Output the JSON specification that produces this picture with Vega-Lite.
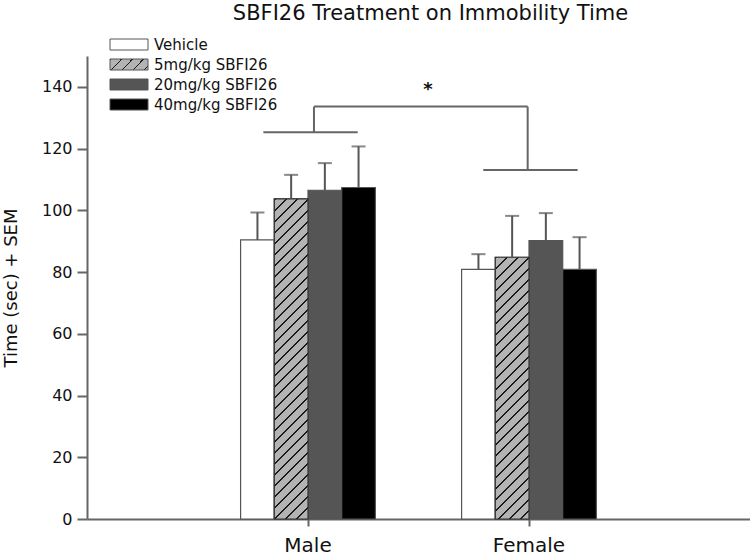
{
  "$schema": "https://vega.github.io/schema/vega-lite/v6.json",
  "width": 663,
  "height": 463,
  "autosize": {"type": "none"},
  "padding": {"left": 87, "top": 56, "right": 0, "bottom": 37},
  "background": "white",
  "params": [
    {"name": "hatchLegend", "value": {"gradient": "linear", "x1": 0, "y1": 0, "x2": 8.547, "y2": 2.474, "stops": [
{"offset":0,"color":"#1a1a1a"},{"offset":0.005625,"color":"#1a1a1a"},{"offset":0.005625,"color":"#b3b3b3"},{"offset":0.03125,"color":"#b3b3b3"},
{"offset":0.03125,"color":"#1a1a1a"},{"offset":0.036875,"color":"#1a1a1a"},{"offset":0.036875,"color":"#b3b3b3"},{"offset":0.0625,"color":"#b3b3b3"},
{"offset":0.0625,"color":"#1a1a1a"},{"offset":0.068125,"color":"#1a1a1a"},{"offset":0.068125,"color":"#b3b3b3"},{"offset":0.09375,"color":"#b3b3b3"},
{"offset":0.09375,"color":"#1a1a1a"},{"offset":0.099375,"color":"#1a1a1a"},{"offset":0.099375,"color":"#b3b3b3"},{"offset":0.125,"color":"#b3b3b3"},
{"offset":0.125,"color":"#1a1a1a"},{"offset":0.130625,"color":"#1a1a1a"},{"offset":0.130625,"color":"#b3b3b3"},{"offset":0.15625,"color":"#b3b3b3"},
{"offset":0.15625,"color":"#1a1a1a"},{"offset":0.161875,"color":"#1a1a1a"},{"offset":0.161875,"color":"#b3b3b3"},{"offset":1,"color":"#b3b3b3"}
    ]}}
  ],
  "title": {
    "text": "SBFI26 Treatment on Immobility Time",
    "font": "DejaVu Sans",
    "fontSize": 21,
    "fontWeight": "normal",
    "color": "#111",
    "frame": "group",
    "anchor": "middle",
    "baseline": "alphabetic",
    "dx": 12,
    "offset": -4
  },
  "datasets": {
    "bars": [
      {"sex": "Male", "treatment": "Vehicle", "mean": 90.4, "upper": 99.3},
      {"sex": "Male", "treatment": "5mg/kg SBFI26", "mean": 103.7, "upper": 111.5},
      {"sex": "Male", "treatment": "20mg/kg SBFI26", "mean": 106.5, "upper": 115.3},
      {"sex": "Male", "treatment": "40mg/kg SBFI26", "mean": 107.4, "upper": 120.7},
      {"sex": "Female", "treatment": "Vehicle", "mean": 80.9, "upper": 85.8},
      {"sex": "Female", "treatment": "5mg/kg SBFI26", "mean": 84.8, "upper": 98.2},
      {"sex": "Female", "treatment": "20mg/kg SBFI26", "mean": 90.2, "upper": 99.1},
      {"sex": "Female", "treatment": "40mg/kg SBFI26", "mean": 80.9, "upper": 91.3}
    ],
    "bracket": [
      {"x1": 0.798, "x2": 1.225, "y1": 125.3, "y2": 125.3},
      {"x1": 1.027, "x2": 1.027, "y1": 125.3, "y2": 133.6},
      {"x1": 1.027, "x2": 1.994, "y1": 133.6, "y2": 133.6},
      {"x1": 1.994, "x2": 1.994, "y1": 133.6, "y2": 113.1},
      {"x1": 1.793, "x2": 2.22, "y1": 113.1, "y2": 113.1}
    ],
    "stars": [
      {"x": 1.543, "y": 139.0, "label": "*"}
    ]
  },
  "layer": [
    {
      "data": {"name": "bars"},
      "layer": [
        {
          "mark": {"type": "bar", "stroke": "#555", "strokeWidth": 1.2},
          "encoding": {
            "x": {"field": "sex", "type": "nominal", "title": null,
              "scale": {"domain": ["Male", "Female"], "paddingInner": 0.39, "paddingOuter": 0.695},
              "axis": {"labelAngle": 0, "labelFont": "DejaVu Sans", "labelFontSize": 20, "labelColor": "#111", "tickSize": 7, "labelPadding": 9}},
            "xOffset": {"field": "treatment", "type": "nominal",
              "scale": {"domain": ["Vehicle", "5mg/kg SBFI26", "20mg/kg SBFI26", "40mg/kg SBFI26"], "paddingInner": 0, "paddingOuter": 0}},
            "y": {"field": "mean", "type": "quantitative", "title": "Time (sec) + SEM",
              "scale": {"domain": [0, 150], "nice": false},
              "axis": {"values": [0, 20, 40, 60, 80, 100, 120, 140], "labelFont": "DejaVu Sans", "labelFontSize": 16, "labelColor": "#111", "tickSize": 10, "labelPadding": 5, "titleFont": "DejaVu Sans", "titleFontSize": 18, "titleFontWeight": "normal", "titleColor": "#111", "titlePadding": 21}},
            "color": {"field": "treatment", "type": "nominal",
              "scale": {"domain": ["Vehicle", "5mg/kg SBFI26", "20mg/kg SBFI26", "40mg/kg SBFI26"], "range": ["#ffffff", {"expr": "hatchLegend"}, "#555555", "#000000"]},
              "legend": {
                "orient": "none", "legendX": 34.5, "legendY": -19, "title": null,
                "symbolType": "M-3.4545,-1H3.4545V1H-3.4545Z", "symbolSize": 121,
                "symbolStrokeColor": "#555", "symbolStrokeWidth": 1,
                "labelFont": "DejaVu Sans", "labelFontSize": 15, "labelColor": "#111",
                "labelOffset": 17.5, "rowPadding": 4
              }}
          }
        },
        {
          "transform": [{"filter": "datum.sex === 'Male' && datum.treatment === '5mg/kg SBFI26'"}],
          "mark": {"type": "bar", "stroke": "#333", "strokeWidth": 1.2,
            "fill": {"gradient": "linear", "x1": 0, "y1": 0, "x2": 0.1145, "y2": 1.0876, "stops": [
{"offset":0,"color":"#1a1a1a"},{"offset":0.005625,"color":"#1a1a1a"},{"offset":0.005625,"color":"#b3b3b3"},{"offset":0.03125,"color":"#b3b3b3"},
{"offset":0.03125,"color":"#1a1a1a"},{"offset":0.036875,"color":"#1a1a1a"},{"offset":0.036875,"color":"#b3b3b3"},{"offset":0.0625,"color":"#b3b3b3"},
{"offset":0.0625,"color":"#1a1a1a"},{"offset":0.068125,"color":"#1a1a1a"},{"offset":0.068125,"color":"#b3b3b3"},{"offset":0.09375,"color":"#b3b3b3"},
{"offset":0.09375,"color":"#1a1a1a"},{"offset":0.099375,"color":"#1a1a1a"},{"offset":0.099375,"color":"#b3b3b3"},{"offset":0.125,"color":"#b3b3b3"},
{"offset":0.125,"color":"#1a1a1a"},{"offset":0.130625,"color":"#1a1a1a"},{"offset":0.130625,"color":"#b3b3b3"},{"offset":0.15625,"color":"#b3b3b3"},
{"offset":0.15625,"color":"#1a1a1a"},{"offset":0.161875,"color":"#1a1a1a"},{"offset":0.161875,"color":"#b3b3b3"},{"offset":0.1875,"color":"#b3b3b3"},
{"offset":0.1875,"color":"#1a1a1a"},{"offset":0.193125,"color":"#1a1a1a"},{"offset":0.193125,"color":"#b3b3b3"},{"offset":0.21875,"color":"#b3b3b3"},
{"offset":0.21875,"color":"#1a1a1a"},{"offset":0.224375,"color":"#1a1a1a"},{"offset":0.224375,"color":"#b3b3b3"},{"offset":0.25,"color":"#b3b3b3"},
{"offset":0.25,"color":"#1a1a1a"},{"offset":0.255625,"color":"#1a1a1a"},{"offset":0.255625,"color":"#b3b3b3"},{"offset":0.28125,"color":"#b3b3b3"},
{"offset":0.28125,"color":"#1a1a1a"},{"offset":0.286875,"color":"#1a1a1a"},{"offset":0.286875,"color":"#b3b3b3"},{"offset":0.3125,"color":"#b3b3b3"},
{"offset":0.3125,"color":"#1a1a1a"},{"offset":0.318125,"color":"#1a1a1a"},{"offset":0.318125,"color":"#b3b3b3"},{"offset":0.34375,"color":"#b3b3b3"},
{"offset":0.34375,"color":"#1a1a1a"},{"offset":0.349375,"color":"#1a1a1a"},{"offset":0.349375,"color":"#b3b3b3"},{"offset":0.375,"color":"#b3b3b3"},
{"offset":0.375,"color":"#1a1a1a"},{"offset":0.380625,"color":"#1a1a1a"},{"offset":0.380625,"color":"#b3b3b3"},{"offset":0.40625,"color":"#b3b3b3"},
{"offset":0.40625,"color":"#1a1a1a"},{"offset":0.411875,"color":"#1a1a1a"},{"offset":0.411875,"color":"#b3b3b3"},{"offset":0.4375,"color":"#b3b3b3"},
{"offset":0.4375,"color":"#1a1a1a"},{"offset":0.443125,"color":"#1a1a1a"},{"offset":0.443125,"color":"#b3b3b3"},{"offset":0.46875,"color":"#b3b3b3"},
{"offset":0.46875,"color":"#1a1a1a"},{"offset":0.474375,"color":"#1a1a1a"},{"offset":0.474375,"color":"#b3b3b3"},{"offset":0.5,"color":"#b3b3b3"},
{"offset":0.5,"color":"#1a1a1a"},{"offset":0.505625,"color":"#1a1a1a"},{"offset":0.505625,"color":"#b3b3b3"},{"offset":0.53125,"color":"#b3b3b3"},
{"offset":0.53125,"color":"#1a1a1a"},{"offset":0.536875,"color":"#1a1a1a"},{"offset":0.536875,"color":"#b3b3b3"},{"offset":0.5625,"color":"#b3b3b3"},
{"offset":0.5625,"color":"#1a1a1a"},{"offset":0.568125,"color":"#1a1a1a"},{"offset":0.568125,"color":"#b3b3b3"},{"offset":0.59375,"color":"#b3b3b3"},
{"offset":0.59375,"color":"#1a1a1a"},{"offset":0.599375,"color":"#1a1a1a"},{"offset":0.599375,"color":"#b3b3b3"},{"offset":0.625,"color":"#b3b3b3"},
{"offset":0.625,"color":"#1a1a1a"},{"offset":0.630625,"color":"#1a1a1a"},{"offset":0.630625,"color":"#b3b3b3"},{"offset":0.65625,"color":"#b3b3b3"},
{"offset":0.65625,"color":"#1a1a1a"},{"offset":0.661875,"color":"#1a1a1a"},{"offset":0.661875,"color":"#b3b3b3"},{"offset":0.6875,"color":"#b3b3b3"},
{"offset":0.6875,"color":"#1a1a1a"},{"offset":0.693125,"color":"#1a1a1a"},{"offset":0.693125,"color":"#b3b3b3"},{"offset":0.71875,"color":"#b3b3b3"},
{"offset":0.71875,"color":"#1a1a1a"},{"offset":0.724375,"color":"#1a1a1a"},{"offset":0.724375,"color":"#b3b3b3"},{"offset":0.75,"color":"#b3b3b3"},
{"offset":0.75,"color":"#1a1a1a"},{"offset":0.755625,"color":"#1a1a1a"},{"offset":0.755625,"color":"#b3b3b3"},{"offset":0.78125,"color":"#b3b3b3"},
{"offset":0.78125,"color":"#1a1a1a"},{"offset":0.786875,"color":"#1a1a1a"},{"offset":0.786875,"color":"#b3b3b3"},{"offset":0.8125,"color":"#b3b3b3"},
{"offset":0.8125,"color":"#1a1a1a"},{"offset":0.818125,"color":"#1a1a1a"},{"offset":0.818125,"color":"#b3b3b3"},{"offset":0.84375,"color":"#b3b3b3"},
{"offset":0.84375,"color":"#1a1a1a"},{"offset":0.849375,"color":"#1a1a1a"},{"offset":0.849375,"color":"#b3b3b3"},{"offset":0.875,"color":"#b3b3b3"},
{"offset":0.875,"color":"#1a1a1a"},{"offset":0.880625,"color":"#1a1a1a"},{"offset":0.880625,"color":"#b3b3b3"},{"offset":0.90625,"color":"#b3b3b3"},
{"offset":0.90625,"color":"#1a1a1a"},{"offset":0.911875,"color":"#1a1a1a"},{"offset":0.911875,"color":"#b3b3b3"},{"offset":0.9375,"color":"#b3b3b3"},
{"offset":0.9375,"color":"#1a1a1a"},{"offset":0.943125,"color":"#1a1a1a"},{"offset":0.943125,"color":"#b3b3b3"},{"offset":0.96875,"color":"#b3b3b3"},
{"offset":0.96875,"color":"#1a1a1a"},{"offset":0.974375,"color":"#1a1a1a"},{"offset":0.974375,"color":"#b3b3b3"},{"offset":1,"color":"#b3b3b3"}
            ]}},
          "encoding": {
            "x": {"field": "sex", "type": "nominal", "title": null},
            "xOffset": {"field": "treatment", "type": "nominal"},
            "y": {"field": "mean", "type": "quantitative", "title": "Time (sec) + SEM"}
          }
        },
        {
          "transform": [{"filter": "datum.sex === 'Female' && datum.treatment === '5mg/kg SBFI26'"}],
          "mark": {"type": "bar", "stroke": "#333", "strokeWidth": 1.2,
            "fill": {"gradient": "linear", "x1": 0, "y1": 0, "x2": 0.1703, "y2": 1.3229, "stops": [
{"offset":0,"color":"#1a1a1a"},{"offset":0.005625,"color":"#1a1a1a"},{"offset":0.005625,"color":"#b3b3b3"},{"offset":0.03125,"color":"#b3b3b3"},
{"offset":0.03125,"color":"#1a1a1a"},{"offset":0.036875,"color":"#1a1a1a"},{"offset":0.036875,"color":"#b3b3b3"},{"offset":0.0625,"color":"#b3b3b3"},
{"offset":0.0625,"color":"#1a1a1a"},{"offset":0.068125,"color":"#1a1a1a"},{"offset":0.068125,"color":"#b3b3b3"},{"offset":0.09375,"color":"#b3b3b3"},
{"offset":0.09375,"color":"#1a1a1a"},{"offset":0.099375,"color":"#1a1a1a"},{"offset":0.099375,"color":"#b3b3b3"},{"offset":0.125,"color":"#b3b3b3"},
{"offset":0.125,"color":"#1a1a1a"},{"offset":0.130625,"color":"#1a1a1a"},{"offset":0.130625,"color":"#b3b3b3"},{"offset":0.15625,"color":"#b3b3b3"},
{"offset":0.15625,"color":"#1a1a1a"},{"offset":0.161875,"color":"#1a1a1a"},{"offset":0.161875,"color":"#b3b3b3"},{"offset":0.1875,"color":"#b3b3b3"},
{"offset":0.1875,"color":"#1a1a1a"},{"offset":0.193125,"color":"#1a1a1a"},{"offset":0.193125,"color":"#b3b3b3"},{"offset":0.21875,"color":"#b3b3b3"},
{"offset":0.21875,"color":"#1a1a1a"},{"offset":0.224375,"color":"#1a1a1a"},{"offset":0.224375,"color":"#b3b3b3"},{"offset":0.25,"color":"#b3b3b3"},
{"offset":0.25,"color":"#1a1a1a"},{"offset":0.255625,"color":"#1a1a1a"},{"offset":0.255625,"color":"#b3b3b3"},{"offset":0.28125,"color":"#b3b3b3"},
{"offset":0.28125,"color":"#1a1a1a"},{"offset":0.286875,"color":"#1a1a1a"},{"offset":0.286875,"color":"#b3b3b3"},{"offset":0.3125,"color":"#b3b3b3"},
{"offset":0.3125,"color":"#1a1a1a"},{"offset":0.318125,"color":"#1a1a1a"},{"offset":0.318125,"color":"#b3b3b3"},{"offset":0.34375,"color":"#b3b3b3"},
{"offset":0.34375,"color":"#1a1a1a"},{"offset":0.349375,"color":"#1a1a1a"},{"offset":0.349375,"color":"#b3b3b3"},{"offset":0.375,"color":"#b3b3b3"},
{"offset":0.375,"color":"#1a1a1a"},{"offset":0.380625,"color":"#1a1a1a"},{"offset":0.380625,"color":"#b3b3b3"},{"offset":0.40625,"color":"#b3b3b3"},
{"offset":0.40625,"color":"#1a1a1a"},{"offset":0.411875,"color":"#1a1a1a"},{"offset":0.411875,"color":"#b3b3b3"},{"offset":0.4375,"color":"#b3b3b3"},
{"offset":0.4375,"color":"#1a1a1a"},{"offset":0.443125,"color":"#1a1a1a"},{"offset":0.443125,"color":"#b3b3b3"},{"offset":0.46875,"color":"#b3b3b3"},
{"offset":0.46875,"color":"#1a1a1a"},{"offset":0.474375,"color":"#1a1a1a"},{"offset":0.474375,"color":"#b3b3b3"},{"offset":0.5,"color":"#b3b3b3"},
{"offset":0.5,"color":"#1a1a1a"},{"offset":0.505625,"color":"#1a1a1a"},{"offset":0.505625,"color":"#b3b3b3"},{"offset":0.53125,"color":"#b3b3b3"},
{"offset":0.53125,"color":"#1a1a1a"},{"offset":0.536875,"color":"#1a1a1a"},{"offset":0.536875,"color":"#b3b3b3"},{"offset":0.5625,"color":"#b3b3b3"},
{"offset":0.5625,"color":"#1a1a1a"},{"offset":0.568125,"color":"#1a1a1a"},{"offset":0.568125,"color":"#b3b3b3"},{"offset":0.59375,"color":"#b3b3b3"},
{"offset":0.59375,"color":"#1a1a1a"},{"offset":0.599375,"color":"#1a1a1a"},{"offset":0.599375,"color":"#b3b3b3"},{"offset":0.625,"color":"#b3b3b3"},
{"offset":0.625,"color":"#1a1a1a"},{"offset":0.630625,"color":"#1a1a1a"},{"offset":0.630625,"color":"#b3b3b3"},{"offset":0.65625,"color":"#b3b3b3"},
{"offset":0.65625,"color":"#1a1a1a"},{"offset":0.661875,"color":"#1a1a1a"},{"offset":0.661875,"color":"#b3b3b3"},{"offset":0.6875,"color":"#b3b3b3"},
{"offset":0.6875,"color":"#1a1a1a"},{"offset":0.693125,"color":"#1a1a1a"},{"offset":0.693125,"color":"#b3b3b3"},{"offset":0.71875,"color":"#b3b3b3"},
{"offset":0.71875,"color":"#1a1a1a"},{"offset":0.724375,"color":"#1a1a1a"},{"offset":0.724375,"color":"#b3b3b3"},{"offset":0.75,"color":"#b3b3b3"},
{"offset":0.75,"color":"#1a1a1a"},{"offset":0.755625,"color":"#1a1a1a"},{"offset":0.755625,"color":"#b3b3b3"},{"offset":0.78125,"color":"#b3b3b3"},
{"offset":0.78125,"color":"#1a1a1a"},{"offset":0.786875,"color":"#1a1a1a"},{"offset":0.786875,"color":"#b3b3b3"},{"offset":0.8125,"color":"#b3b3b3"},
{"offset":0.8125,"color":"#1a1a1a"},{"offset":0.818125,"color":"#1a1a1a"},{"offset":0.818125,"color":"#b3b3b3"},{"offset":0.84375,"color":"#b3b3b3"},
{"offset":0.84375,"color":"#1a1a1a"},{"offset":0.849375,"color":"#1a1a1a"},{"offset":0.849375,"color":"#b3b3b3"},{"offset":1,"color":"#b3b3b3"}
            ]}},
          "encoding": {
            "x": {"field": "sex", "type": "nominal", "title": null},
            "xOffset": {"field": "treatment", "type": "nominal"},
            "y": {"field": "mean", "type": "quantitative", "title": "Time (sec) + SEM"}
          }
        },
        {
          "mark": {"type": "rule", "color": "#555", "strokeWidth": 2},
          "encoding": {
            "x": {"field": "sex", "type": "nominal", "title": null},
            "xOffset": {"field": "treatment", "type": "nominal"},
            "y": {"field": "mean", "type": "quantitative", "title": "Time (sec) + SEM"},
            "y2": {"field": "upper"}
          }
        },
        {
          "mark": {"type": "tick", "orient": "horizontal", "size": 14, "thickness": 2, "color": "#555"},
          "encoding": {
            "x": {"field": "sex", "type": "nominal", "title": null},
            "xOffset": {"field": "treatment", "type": "nominal"},
            "y": {"field": "upper", "type": "quantitative", "title": "Time (sec) + SEM"}
          }
        }
      ]
    },
    {
      "layer": [
        {
          "data": {"name": "bracket"},
          "mark": {"type": "rule", "color": "#666", "strokeWidth": 2},
          "encoding": {
            "x": {"field": "x1", "type": "quantitative", "scale": {"domain": [0, 3], "nice": false, "zero": false}, "axis": null},
            "x2": {"field": "x2"},
            "y": {"field": "y1", "type": "quantitative", "title": "Time (sec) + SEM"},
            "y2": {"field": "y2"}
          }
        },
        {
          "data": {"name": "stars"},
          "mark": {"type": "text", "font": "DejaVu Sans", "fontSize": 18, "fontWeight": "bold", "color": "#111", "baseline": "middle", "align": "center"},
          "encoding": {
            "x": {"field": "x", "type": "quantitative", "scale": {"domain": [0, 3], "nice": false, "zero": false}, "axis": null},
            "y": {"field": "y", "type": "quantitative", "title": "Time (sec) + SEM"},
            "text": {"field": "label"}
          }
        }
      ]
    }
  ],
  "resolve": {"scale": {"x": "independent"}, "axis": {"x": "independent"}},
  "config": {
    "view": {"stroke": null},
    "axis": {"grid": false, "domainColor": "#666", "domainWidth": 2, "tickColor": "#666", "tickWidth": 2}
  }
}
